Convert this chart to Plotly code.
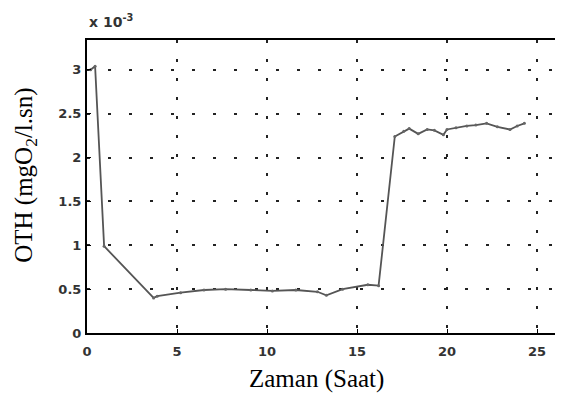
import plotly.graph_objects as go

# Time (hours)
zaman = [0.2, 0.45, 0.95, 3.7, 3.9, 5.2, 6.5, 7.7, 9.1, 10.3, 11.6, 12.8, 13.3, 14.2, 15.6, 16.2,
         17.1, 17.6, 17.9, 18.4, 18.9, 19.3, 19.8, 20.0, 20.5, 21.1, 21.6, 22.2, 22.8, 23.5, 23.9, 24.3]
# OTH (x10^-3 mgO2/l.sn)
oth = [3.0, 3.04, 0.99, 0.40, 0.42, 0.46, 0.49, 0.50, 0.49, 0.48, 0.49, 0.47, 0.43, 0.50, 0.55, 0.54,
       2.24, 2.30, 2.33, 2.27, 2.32, 2.31, 2.26, 2.32, 2.34, 2.36, 2.37, 2.39, 2.35, 2.32, 2.36, 2.39]

x_ticks = [0, 5, 10, 15, 20, 25]
y_ticks = [0, 0.5, 1, 1.5, 2, 2.5, 3]
y_tick_labels = ["0", "0.5", "1", "1.5", "2", "2.5", "3"]

fig = go.Figure()
fig.add_trace(go.Scatter(
    x=zaman, y=oth, mode="lines+markers",
    line=dict(color="#555555", width=1.8),
    marker=dict(size=3, color="#666666"),
    showlegend=False,
))

tick_font = dict(family="DejaVu Sans", size=13, color="#333", weight="bold")
serif = dict(family="Liberation Serif", size=25, color="black")

fig.update_layout(
    width=547, height=386,
    margin=dict(l=79, r=0, t=32, b=61),
    plot_bgcolor="white", paper_bgcolor="white",
    xaxis=dict(
        range=[0, 26.0], tickvals=x_ticks, ticktext=[str(t) for t in x_ticks],
        showgrid=True, gridcolor="#222", gridwidth=1.5, griddash="3px,16px",
        showline=True, linecolor="black", linewidth=2, mirror=True,
        ticks="inside", ticklen=4, tickcolor="black", ticklabelstandoff=5,
        tickfont=tick_font, zeroline=False, automargin=False,
    ),
    yaxis=dict(
        range=[0, 3.34], tickvals=y_ticks, ticktext=y_tick_labels,
        showgrid=True, gridcolor="#222", gridwidth=1.5, griddash="3px,18px",
        showline=True, linecolor="black", linewidth=2,
        ticks="inside", ticklen=4, tickcolor="black", ticklabelstandoff=1,
        tickfont=tick_font, zeroline=False, automargin=False,
    ),
    annotations=[
        dict(text="<b>x 10<sup>-3</sup></b>", xref="paper", yref="paper", x=0, y=1.065,
             xanchor="left", yanchor="middle", showarrow=False,
             font=dict(family="DejaVu Sans", size=14, color="#333")),
        dict(text="Zaman (Saat)", xref="paper", yref="paper", x=0.491, y=-0.158,
             xanchor="center", yanchor="middle", showarrow=False, font=serif),
        dict(text="OTH (mgO<sub>2</sub>/l.sn)", xref="paper", yref="paper", x=-0.133, y=0.539,
             xanchor="center", yanchor="middle", textangle=-90, showarrow=False, font=serif),
    ],
)

fig.write_html("out.html")
